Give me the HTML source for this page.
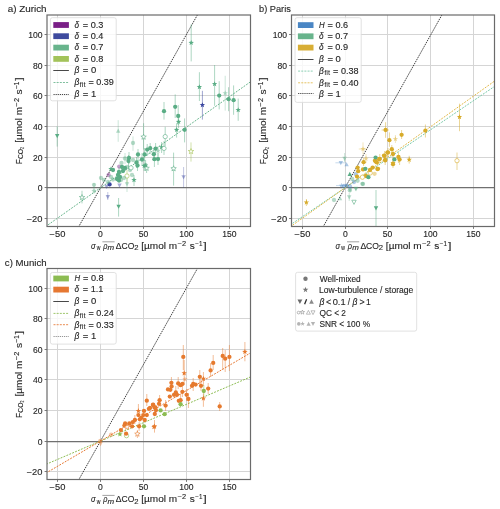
<!DOCTYPE html><html><head><meta charset="utf-8"><style>html,body{margin:0;padding:0;background:#fff;width:500px;height:509px;overflow:hidden} text{stroke:#262626;stroke-width:0.12px} text.s{stroke-width:0}</style></head><body><svg width="500" height="509" viewBox="0 0 500 509" style="display:block;font-family:'Liberation Sans', sans-serif;will-change:transform">
<rect width="500" height="509" fill="#fff"/>
<line x1="57.50" y1="15.0" x2="57.50" y2="226.5" stroke="#d5d5d5" stroke-width="1"/>
<line x1="100.50" y1="15.0" x2="100.50" y2="226.5" stroke="#d5d5d5" stroke-width="1"/>
<line x1="143.50" y1="15.0" x2="143.50" y2="226.5" stroke="#d5d5d5" stroke-width="1"/>
<line x1="186.50" y1="15.0" x2="186.50" y2="226.5" stroke="#d5d5d5" stroke-width="1"/>
<line x1="229.50" y1="15.0" x2="229.50" y2="226.5" stroke="#d5d5d5" stroke-width="1"/>
<line x1="47.0" y1="218.50" x2="250.5" y2="218.50" stroke="#d5d5d5" stroke-width="1"/>
<line x1="47.0" y1="187.50" x2="250.5" y2="187.50" stroke="#d5d5d5" stroke-width="1"/>
<line x1="47.0" y1="157.50" x2="250.5" y2="157.50" stroke="#d5d5d5" stroke-width="1"/>
<line x1="47.0" y1="126.50" x2="250.5" y2="126.50" stroke="#d5d5d5" stroke-width="1"/>
<line x1="47.0" y1="95.50" x2="250.5" y2="95.50" stroke="#d5d5d5" stroke-width="1"/>
<line x1="47.0" y1="65.50" x2="250.5" y2="65.50" stroke="#d5d5d5" stroke-width="1"/>
<line x1="47.0" y1="34.50" x2="250.5" y2="34.50" stroke="#d5d5d5" stroke-width="1"/>
<line x1="302.50" y1="15.0" x2="302.50" y2="226.5" stroke="#d5d5d5" stroke-width="1"/>
<line x1="345.50" y1="15.0" x2="345.50" y2="226.5" stroke="#d5d5d5" stroke-width="1"/>
<line x1="387.50" y1="15.0" x2="387.50" y2="226.5" stroke="#d5d5d5" stroke-width="1"/>
<line x1="430.50" y1="15.0" x2="430.50" y2="226.5" stroke="#d5d5d5" stroke-width="1"/>
<line x1="473.50" y1="15.0" x2="473.50" y2="226.5" stroke="#d5d5d5" stroke-width="1"/>
<line x1="291.5" y1="218.50" x2="494.5" y2="218.50" stroke="#d5d5d5" stroke-width="1"/>
<line x1="291.5" y1="187.50" x2="494.5" y2="187.50" stroke="#d5d5d5" stroke-width="1"/>
<line x1="291.5" y1="157.50" x2="494.5" y2="157.50" stroke="#d5d5d5" stroke-width="1"/>
<line x1="291.5" y1="126.50" x2="494.5" y2="126.50" stroke="#d5d5d5" stroke-width="1"/>
<line x1="291.5" y1="95.50" x2="494.5" y2="95.50" stroke="#d5d5d5" stroke-width="1"/>
<line x1="291.5" y1="65.50" x2="494.5" y2="65.50" stroke="#d5d5d5" stroke-width="1"/>
<line x1="291.5" y1="34.50" x2="494.5" y2="34.50" stroke="#d5d5d5" stroke-width="1"/>
<line x1="57.50" y1="268.5" x2="57.50" y2="479.5" stroke="#d5d5d5" stroke-width="1"/>
<line x1="100.50" y1="268.5" x2="100.50" y2="479.5" stroke="#d5d5d5" stroke-width="1"/>
<line x1="143.50" y1="268.5" x2="143.50" y2="479.5" stroke="#d5d5d5" stroke-width="1"/>
<line x1="186.50" y1="268.5" x2="186.50" y2="479.5" stroke="#d5d5d5" stroke-width="1"/>
<line x1="229.50" y1="268.5" x2="229.50" y2="479.5" stroke="#d5d5d5" stroke-width="1"/>
<line x1="47.0" y1="471.50" x2="250.5" y2="471.50" stroke="#d5d5d5" stroke-width="1"/>
<line x1="47.0" y1="441.50" x2="250.5" y2="441.50" stroke="#d5d5d5" stroke-width="1"/>
<line x1="47.0" y1="410.50" x2="250.5" y2="410.50" stroke="#d5d5d5" stroke-width="1"/>
<line x1="47.0" y1="379.50" x2="250.5" y2="379.50" stroke="#d5d5d5" stroke-width="1"/>
<line x1="47.0" y1="349.50" x2="250.5" y2="349.50" stroke="#d5d5d5" stroke-width="1"/>
<line x1="47.0" y1="318.50" x2="250.5" y2="318.50" stroke="#d5d5d5" stroke-width="1"/>
<line x1="47.0" y1="288.50" x2="250.5" y2="288.50" stroke="#d5d5d5" stroke-width="1"/>
<clipPath id="clipa"><rect x="47.0" y="15.0" width="203.50" height="211.50"/></clipPath>
<g clip-path="url(#clipa)">
<line x1="47.0" y1="187.50" x2="250.5" y2="187.50" stroke="#707070" stroke-width="1.25"/>
<line x1="74.72" y1="233.79" x2="203.62" y2="3.84" stroke="#2a2a2a" stroke-width="0.9" stroke-dasharray="1.5 0.9"/>
<line x1="40.35" y1="230.29" x2="255.17" y2="78.53" stroke="#68b48c" stroke-width="1.0" stroke-dasharray="1.9 1.25"/>
</g>
<clipPath id="clipb"><rect x="291.5" y="15.0" width="203.00" height="211.50"/></clipPath>
<g clip-path="url(#clipb)">
<line x1="291.5" y1="187.50" x2="494.5" y2="187.50" stroke="#707070" stroke-width="1.25"/>
<line x1="319.22" y1="233.79" x2="448.12" y2="3.84" stroke="#2a2a2a" stroke-width="0.9" stroke-dasharray="1.5 0.9"/>
<line x1="284.85" y1="228.58" x2="499.67" y2="82.94" stroke="#78c8a8" stroke-width="1.0" stroke-dasharray="1.9 1.25"/>
<line x1="284.85" y1="230.72" x2="499.67" y2="77.42" stroke="#e0b848" stroke-width="1.0" stroke-dasharray="1.9 1.25"/>
</g>
<clipPath id="clipc"><rect x="47.0" y="268.5" width="203.50" height="211.00"/></clipPath>
<g clip-path="url(#clipc)">
<line x1="47.0" y1="441.50" x2="250.5" y2="441.50" stroke="#707070" stroke-width="1.25"/>
<line x1="74.72" y1="486.95" x2="203.62" y2="257.45" stroke="#2a2a2a" stroke-width="0.9" stroke-dasharray="1.5 0.9"/>
<line x1="40.35" y1="466.75" x2="255.17" y2="374.95" stroke="#8cbc52" stroke-width="1.0" stroke-dasharray="1.9 1.25"/>
<line x1="40.35" y1="476.39" x2="255.17" y2="350.17" stroke="#e67832" stroke-width="1.0" stroke-dasharray="1.9 1.25"/>
</g>
<g clip-path="url(#clipa)">
<line x1="57.2" y1="126.2" x2="57.2" y2="146.6" stroke="#5aad85" stroke-opacity="0.55" stroke-width="0.9"/>
<line x1="191.2" y1="24.3" x2="191.2" y2="61.4" stroke="#5aad85" stroke-opacity="0.55" stroke-width="0.9"/>
<line x1="199.4" y1="72.2" x2="199.4" y2="101" stroke="#5aad85" stroke-opacity="0.55" stroke-width="0.9"/>
<line x1="202.4" y1="90.8" x2="202.4" y2="119.6" stroke="#3b47a0" stroke-opacity="0.55" stroke-width="0.9"/>
<line x1="214.6" y1="65" x2="214.6" y2="105.8" stroke="#5aad85" stroke-opacity="0.55" stroke-width="0.9"/>
<line x1="219.2" y1="81.2" x2="219.2" y2="109.4" stroke="#5aad85" stroke-opacity="0.55" stroke-width="0.9"/>
<line x1="225.2" y1="75.8" x2="225.2" y2="110.6" stroke="#5aad85" stroke-opacity="0.35" stroke-width="0.9"/>
<line x1="228.6" y1="87.2" x2="228.6" y2="111.2" stroke="#5aad85" stroke-opacity="0.55" stroke-width="0.9"/>
<line x1="233.6" y1="85.4" x2="233.6" y2="114.8" stroke="#5aad85" stroke-opacity="0.55" stroke-width="0.9"/>
<line x1="238.2" y1="98.6" x2="238.2" y2="120.8" stroke="#5aad85" stroke-opacity="0.55" stroke-width="0.9"/>
<line x1="164" y1="102" x2="164" y2="119.6" stroke="#5aad85" stroke-opacity="0.55" stroke-width="0.9"/>
<line x1="175.2" y1="94.4" x2="175.2" y2="118" stroke="#5aad85" stroke-opacity="0.55" stroke-width="0.9"/>
<line x1="178.2" y1="105" x2="178.2" y2="125" stroke="#5aad85" stroke-opacity="0.55" stroke-width="0.9"/>
<line x1="178.6" y1="115" x2="178.6" y2="128" stroke="#5aad85" stroke-opacity="0.55" stroke-width="0.9"/>
<line x1="176.6" y1="123.2" x2="176.6" y2="137.6" stroke="#5aad85" stroke-opacity="0.55" stroke-width="0.9"/>
<line x1="184.6" y1="118.4" x2="184.6" y2="142.4" stroke="#5aad85" stroke-opacity="0.55" stroke-width="0.9"/>
<line x1="165.2" y1="126.8" x2="165.2" y2="146" stroke="#5aad85" stroke-opacity="0.55" stroke-width="0.9"/>
<line x1="143.6" y1="123.2" x2="143.6" y2="149.6" stroke="#5aad85" stroke-opacity="0.55" stroke-width="0.9"/>
<line x1="161.6" y1="142" x2="161.6" y2="153" stroke="#5aad85" stroke-opacity="0.55" stroke-width="0.9"/>
<line x1="164" y1="141" x2="164" y2="155" stroke="#5aad85" stroke-opacity="0.55" stroke-width="0.9"/>
<line x1="147.2" y1="144" x2="147.2" y2="156" stroke="#5aad85" stroke-opacity="0.55" stroke-width="0.9"/>
<line x1="150.2" y1="143" x2="150.2" y2="154" stroke="#5aad85" stroke-opacity="0.55" stroke-width="0.9"/>
<line x1="155.6" y1="143" x2="155.6" y2="155" stroke="#5aad85" stroke-opacity="0.55" stroke-width="0.9"/>
<line x1="153.8" y1="148" x2="153.8" y2="161" stroke="#5aad85" stroke-opacity="0.55" stroke-width="0.9"/>
<line x1="144.6" y1="148" x2="144.6" y2="161" stroke="#5aad85" stroke-opacity="0.55" stroke-width="0.9"/>
<line x1="154.4" y1="152" x2="154.4" y2="167" stroke="#5aad85" stroke-opacity="0.55" stroke-width="0.9"/>
<line x1="158" y1="153" x2="158" y2="165" stroke="#5aad85" stroke-opacity="0.55" stroke-width="0.9"/>
<line x1="158" y1="146" x2="158" y2="156" stroke="#5aad85" stroke-opacity="0.35" stroke-width="0.9"/>
<line x1="191" y1="142.4" x2="191" y2="161.6" stroke="#a2c151" stroke-opacity="0.55" stroke-width="0.9"/>
<line x1="144.2" y1="160" x2="144.2" y2="171" stroke="#5aad85" stroke-opacity="0.55" stroke-width="0.9"/>
<line x1="146.6" y1="163" x2="146.6" y2="173" stroke="#5aad85" stroke-opacity="0.55" stroke-width="0.9"/>
<line x1="173.6" y1="152.6" x2="173.6" y2="185.6" stroke="#5aad85" stroke-opacity="0.55" stroke-width="0.9"/>
<line x1="183.6" y1="167" x2="183.6" y2="187.6" stroke="#3b47a0" stroke-opacity="0.35" stroke-width="0.9"/>
<line x1="118.2" y1="120.2" x2="118.2" y2="141.8" stroke="#5aad85" stroke-opacity="0.35" stroke-width="0.9"/>
<line x1="133" y1="136.4" x2="133" y2="150.8" stroke="#5aad85" stroke-opacity="0.35" stroke-width="0.9"/>
<line x1="145.6" y1="160" x2="145.6" y2="171" stroke="#5aad85" stroke-opacity="0.55" stroke-width="0.9"/>
<line x1="127" y1="170" x2="127" y2="183" stroke="#a2c151" stroke-opacity="0.55" stroke-width="0.9"/>
<line x1="82" y1="190.8" x2="82" y2="203.4" stroke="#5aad85" stroke-opacity="0.55" stroke-width="0.9"/>
<line x1="94" y1="183" x2="94" y2="193.8" stroke="#5aad85" stroke-opacity="0.35" stroke-width="0.9"/>
<line x1="107.8" y1="192" x2="107.8" y2="200" stroke="#3b47a0" stroke-opacity="0.35" stroke-width="0.9"/>
<line x1="118.6" y1="198" x2="118.6" y2="216.6" stroke="#5aad85" stroke-opacity="0.55" stroke-width="0.9"/>
<line x1="129" y1="152" x2="129" y2="164" stroke="#5aad85" stroke-opacity="0.55" stroke-width="0.9"/>
<line x1="128.5" y1="155" x2="128.5" y2="167" stroke="#5aad85" stroke-opacity="0.55" stroke-width="0.9"/>
<line x1="138" y1="149" x2="138" y2="160" stroke="#5aad85" stroke-opacity="0.55" stroke-width="0.9"/>
<line x1="142" y1="153" x2="142" y2="166" stroke="#5aad85" stroke-opacity="0.55" stroke-width="0.9"/>
<line x1="136.5" y1="157" x2="136.5" y2="168" stroke="#5aad85" stroke-opacity="0.55" stroke-width="0.9"/>
<line x1="137.5" y1="160" x2="137.5" y2="171" stroke="#5aad85" stroke-opacity="0.55" stroke-width="0.9"/>
<line x1="125" y1="153" x2="125" y2="164" stroke="#5aad85" stroke-opacity="0.35" stroke-width="0.9"/>
<line x1="119" y1="167" x2="119" y2="177" stroke="#5aad85" stroke-opacity="0.55" stroke-width="0.9"/>
<line x1="134" y1="175" x2="134" y2="186" stroke="#5aad85" stroke-opacity="0.55" stroke-width="0.9"/>
<line x1="127" y1="176" x2="127" y2="192" stroke="#5aad85" stroke-opacity="0.35" stroke-width="0.9"/>
<polygon points="55.00,134.04 59.40,134.04 57.20,138.22" fill="#5aad85"/>
<polygon points="191.20,39.95 191.91,41.83 193.91,41.92 192.34,43.17 192.88,45.11 191.20,44.00 189.52,45.11 190.06,43.17 188.49,41.92 190.49,41.83" fill="#5aad85"/>
<polygon points="199.40,84.15 200.11,86.03 202.11,86.12 200.54,87.37 201.08,89.31 199.40,88.20 197.72,89.31 198.26,87.37 196.69,86.12 198.69,86.03" fill="#5aad85"/>
<polygon points="202.40,102.15 203.11,104.03 205.11,104.12 203.54,105.37 204.08,107.31 202.40,106.20 200.72,107.31 201.26,105.37 199.69,104.12 201.69,104.03" fill="#3b47a0"/>
<polygon points="214.60,81.15 215.31,83.03 217.31,83.12 215.74,84.37 216.28,86.31 214.60,85.20 212.92,86.31 213.46,84.37 211.89,83.12 213.89,83.03" fill="#5aad85"/>
<circle cx="219.2" cy="95.6" r="2.15" fill="#5aad85"/>
<polygon points="225.20,90.35 225.91,92.23 227.91,92.32 226.34,93.57 226.88,95.51 225.20,94.40 223.52,95.51 224.06,93.57 222.49,92.32 224.49,92.23" fill="#5aad85" fill-opacity="0.45"/>
<circle cx="228.6" cy="99.2" r="2.15" fill="#5aad85"/>
<circle cx="233.6" cy="100.2" r="2.15" fill="#5aad85"/>
<polygon points="238.20,107.15 238.91,109.03 240.91,109.12 239.34,110.37 239.88,112.31 238.20,111.20 236.52,112.31 237.06,110.37 235.49,109.12 237.49,109.03" fill="#5aad85"/>
<circle cx="164" cy="111.2" r="2.15" fill="#5aad85"/>
<circle cx="175.2" cy="106.8" r="2.15" fill="#5aad85"/>
<circle cx="178.2" cy="116" r="2.15" fill="#5aad85"/>
<polygon points="178.60,118.95 179.31,120.83 181.31,120.92 179.74,122.17 180.28,124.11 178.60,123.00 176.92,124.11 177.46,122.17 175.89,120.92 177.89,120.83" fill="#5aad85"/>
<polygon points="176.60,126.95 177.31,128.83 179.31,128.92 177.74,130.17 178.28,132.11 176.60,131.00 174.92,132.11 175.46,130.17 173.89,128.92 175.89,128.83" fill="#5aad85"/>
<circle cx="184.6" cy="129.8" r="2.15" fill="#5aad85"/>
<circle cx="165.2" cy="136.6" r="2.15" fill="#fff" stroke="#5aad85" stroke-width="0.6"/>
<polygon points="143.60,134.15 144.31,136.03 146.31,136.12 144.74,137.37 145.28,139.31 143.60,138.20 141.92,139.31 142.46,137.37 140.89,136.12 142.89,136.03" fill="#fff" stroke="#5aad85" stroke-width="0.6"/>
<polygon points="161.60,144.35 162.31,146.23 164.31,146.32 162.74,147.57 163.28,149.51 161.60,148.40 159.92,149.51 160.46,147.57 158.89,146.32 160.89,146.23" fill="#5aad85"/>
<circle cx="164" cy="148.4" r="2.15" fill="#fff" stroke="#5aad85" stroke-width="0.6"/>
<circle cx="147.2" cy="149.6" r="2.15" fill="#5aad85"/>
<circle cx="150.2" cy="148.2" r="2.15" fill="#5aad85"/>
<circle cx="155.6" cy="148.6" r="2.15" fill="#5aad85"/>
<circle cx="153.8" cy="154.2" r="2.15" fill="#5aad85"/>
<circle cx="144.6" cy="154.4" r="2.15" fill="#5aad85"/>
<circle cx="154.4" cy="159.2" r="2.15" fill="#5aad85"/>
<circle cx="158" cy="159" r="2.15" fill="#5aad85"/>
<polygon points="158.00,147.95 158.71,149.83 160.71,149.92 159.14,151.17 159.68,153.11 158.00,152.00 156.32,153.11 156.86,151.17 155.29,149.92 157.29,149.83" fill="#5aad85" fill-opacity="0.45"/>
<polygon points="191.00,148.55 191.71,150.43 193.71,150.52 192.14,151.77 192.68,153.71 191.00,152.60 189.32,153.71 189.86,151.77 188.29,150.52 190.29,150.43" fill="#fff" stroke="#a2c151" stroke-width="0.6"/>
<polygon points="144.20,162.95 144.91,164.83 146.91,164.92 145.34,166.17 145.88,168.11 144.20,167.00 142.52,168.11 143.06,166.17 141.49,164.92 143.49,164.83" fill="#5aad85"/>
<polygon points="146.60,165.35 147.31,167.23 149.31,167.32 147.74,168.57 148.28,170.51 146.60,169.40 144.92,170.51 145.46,168.57 143.89,167.32 145.89,167.23" fill="#fff" stroke="#5aad85" stroke-width="0.6"/>
<polygon points="173.60,165.75 174.31,167.63 176.31,167.72 174.74,168.97 175.28,170.91 173.60,169.80 171.92,170.91 172.46,168.97 170.89,167.72 172.89,167.63" fill="#fff" stroke="#5aad85" stroke-width="0.6"/>
<polygon points="181.40,175.14 185.80,175.14 183.60,179.32" fill="#3b47a0" fill-opacity="0.45"/>
<polygon points="116.00,132.76 120.40,132.76 118.20,128.58" fill="#5aad85" fill-opacity="0.45"/>
<circle cx="133" cy="143" r="2.15" fill="#5aad85" fill-opacity="0.45"/>
<polygon points="145.60,162.55 146.31,164.43 148.31,164.52 146.74,165.77 147.28,167.71 145.60,166.60 143.92,167.71 144.46,165.77 142.89,164.52 144.89,164.43" fill="#5aad85"/>
<circle cx="119.2" cy="166.6" r="2.15" fill="#7b2a8a" fill-opacity="0.45"/>
<circle cx="127" cy="176" r="2.15" fill="#fff" stroke="#a2c151" stroke-width="0.6"/>
<circle cx="108.6" cy="175" r="2.15" fill="#7b2a8a" fill-opacity="0.45"/>
<circle cx="109.6" cy="184.4" r="2.15" fill="#3b47a0"/>
<polygon points="104.40,184.74 108.80,184.74 106.60,188.92" fill="#3b47a0" fill-opacity="0.45"/>
<polygon points="117.30,183.54 121.70,183.54 119.50,187.72" fill="#3b47a0" fill-opacity="0.45"/>
<polygon points="82.00,194.55 82.71,196.43 84.71,196.52 83.14,197.77 83.68,199.71 82.00,198.60 80.32,199.71 80.86,197.77 79.29,196.52 81.29,196.43" fill="#fff" stroke="#5aad85" stroke-width="0.6"/>
<polygon points="94.00,187.95 94.71,189.83 96.71,189.92 95.14,191.17 95.68,193.11 94.00,192.00 92.32,193.11 92.86,191.17 91.29,189.92 93.29,189.83" fill="#5aad85" fill-opacity="0.45"/>
<circle cx="94" cy="184.8" r="2.15" fill="#5aad85" fill-opacity="0.45"/>
<polygon points="105.60,195.04 110.00,195.04 107.80,199.22" fill="#3b47a0" fill-opacity="0.45"/>
<polygon points="116.40,204.64 120.80,204.64 118.60,208.82" fill="#5aad85"/>
<circle cx="129" cy="158" r="2.15" fill="#5aad85"/>
<circle cx="128.5" cy="161" r="2.15" fill="#5aad85"/>
<circle cx="138" cy="154.5" r="2.15" fill="#5aad85"/>
<circle cx="142" cy="159.5" r="2.15" fill="#5aad85"/>
<circle cx="136.5" cy="162.5" r="2.15" fill="#5aad85"/>
<circle cx="137.5" cy="165.5" r="2.15" fill="#5aad85"/>
<circle cx="125" cy="158.5" r="2.15" fill="#5aad85" fill-opacity="0.45"/>
<circle cx="133" cy="160" r="2.15" fill="#5aad85" fill-opacity="0.45"/>
<circle cx="121.5" cy="163" r="2.15" fill="#5aad85" fill-opacity="0.45"/>
<polygon points="111.00,166.15 111.71,168.03 113.71,168.12 112.14,169.37 112.68,171.31 111.00,170.20 109.32,171.31 109.86,169.37 108.29,168.12 110.29,168.03" fill="#5aad85"/>
<circle cx="113" cy="170" r="2.15" fill="#5aad85"/>
<circle cx="119" cy="172" r="2.15" fill="#5aad85"/>
<circle cx="118" cy="175" r="2.15" fill="#5aad85"/>
<circle cx="120" cy="177" r="2.15" fill="#5aad85"/>
<circle cx="117" cy="179" r="2.15" fill="#5aad85"/>
<circle cx="119" cy="180.5" r="2.15" fill="#5aad85"/>
<circle cx="123" cy="171" r="2.15" fill="#5aad85"/>
<circle cx="125" cy="168" r="2.15" fill="#5aad85"/>
<circle cx="127" cy="167" r="2.15" fill="#5aad85" fill-opacity="0.45"/>
<circle cx="122" cy="167" r="2.15" fill="#5aad85"/>
<circle cx="121" cy="180" r="2.15" fill="#5aad85" fill-opacity="0.45"/>
<circle cx="124" cy="178" r="2.15" fill="#5aad85" fill-opacity="0.45"/>
<circle cx="130" cy="170" r="2.15" fill="#5aad85" fill-opacity="0.45"/>
<circle cx="132" cy="175" r="2.15" fill="#5aad85" fill-opacity="0.45"/>
<circle cx="111" cy="177" r="2.15" fill="#5aad85" fill-opacity="0.45"/>
<circle cx="104" cy="180" r="2.15" fill="#5aad85" fill-opacity="0.45"/>
<circle cx="101" cy="178" r="2.15" fill="#5aad85" fill-opacity="0.45"/>
<circle cx="108" cy="182" r="2.15" fill="#5aad85" fill-opacity="0.45"/>
<circle cx="113" cy="179.5" r="2.15" fill="#5aad85" fill-opacity="0.45"/>
<polygon points="134.00,177.15 134.71,179.03 136.71,179.12 135.14,180.37 135.68,182.31 134.00,181.20 132.32,182.31 132.86,180.37 131.29,179.12 133.29,179.03" fill="#5aad85"/>
<polygon points="124.80,182.24 129.20,182.24 127.00,186.42" fill="#5aad85" fill-opacity="0.45"/>
<circle cx="131" cy="167.8" r="2.15" fill="#fff" stroke="#5aad85" stroke-width="0.6"/>
</g>
<g clip-path="url(#clipb)">
<line x1="459.5" y1="103.7" x2="459.5" y2="131.2" stroke="#d7ab2a" stroke-opacity="0.55" stroke-width="0.9"/>
<line x1="425.4" y1="124.5" x2="425.4" y2="137.5" stroke="#d7ab2a" stroke-opacity="0.55" stroke-width="0.9"/>
<line x1="385.6" y1="122.2" x2="385.6" y2="137.8" stroke="#d7ab2a" stroke-opacity="0.55" stroke-width="0.9"/>
<line x1="381.6" y1="130" x2="388.8" y2="130" stroke="#d7ab2a" stroke-opacity="0.55" stroke-width="0.9"/>
<line x1="401.6" y1="130" x2="401.6" y2="139" stroke="#d7ab2a" stroke-opacity="0.55" stroke-width="0.9"/>
<line x1="395.4" y1="135" x2="395.4" y2="143" stroke="#d7ab2a" stroke-opacity="0.35" stroke-width="0.9"/>
<line x1="389.4" y1="132.4" x2="389.4" y2="146.8" stroke="#d7ab2a" stroke-opacity="0.55" stroke-width="0.9"/>
<line x1="391.8" y1="145" x2="391.8" y2="153" stroke="#d7ab2a" stroke-opacity="0.55" stroke-width="0.9"/>
<line x1="388" y1="148" x2="388" y2="157" stroke="#d7ab2a" stroke-opacity="0.55" stroke-width="0.9"/>
<line x1="393" y1="150" x2="393" y2="158" stroke="#d7ab2a" stroke-opacity="0.55" stroke-width="0.9"/>
<line x1="384.6" y1="151" x2="384.6" y2="160" stroke="#d7ab2a" stroke-opacity="0.55" stroke-width="0.9"/>
<line x1="379.8" y1="154" x2="379.8" y2="163" stroke="#d7ab2a" stroke-opacity="0.55" stroke-width="0.9"/>
<line x1="385.2" y1="156" x2="385.2" y2="165" stroke="#d7ab2a" stroke-opacity="0.55" stroke-width="0.9"/>
<line x1="398.4" y1="152" x2="398.4" y2="163" stroke="#d7ab2a" stroke-opacity="0.55" stroke-width="0.9"/>
<line x1="399.6" y1="155" x2="399.6" y2="165" stroke="#d7ab2a" stroke-opacity="0.55" stroke-width="0.9"/>
<line x1="393" y1="158" x2="393" y2="168" stroke="#d7ab2a" stroke-opacity="0.55" stroke-width="0.9"/>
<line x1="409.2" y1="155.8" x2="409.2" y2="163.6" stroke="#d7ab2a" stroke-opacity="0.55" stroke-width="0.9"/>
<line x1="457" y1="152.5" x2="457" y2="170" stroke="#d7ab2a" stroke-opacity="0.55" stroke-width="0.9"/>
<line x1="363" y1="142.4" x2="363" y2="154.4" stroke="#d7ab2a" stroke-opacity="0.35" stroke-width="0.9"/>
<line x1="358.8" y1="149" x2="367.2" y2="149" stroke="#d7ab2a" stroke-opacity="0.35" stroke-width="0.9"/>
<line x1="344.6" y1="153" x2="344.6" y2="162" stroke="#5aad85" stroke-opacity="0.35" stroke-width="0.9"/>
<line x1="335.4" y1="162.8" x2="346.2" y2="162.8" stroke="#4a86c4" stroke-opacity="0.35" stroke-width="0.9"/>
<line x1="363.6" y1="158" x2="363.6" y2="166" stroke="#d7ab2a" stroke-opacity="0.55" stroke-width="0.9"/>
<line x1="366" y1="154" x2="366" y2="163" stroke="#d7ab2a" stroke-opacity="0.35" stroke-width="0.9"/>
<line x1="336" y1="185.6" x2="347" y2="185.6" stroke="#4a86c4" stroke-opacity="0.35" stroke-width="0.9"/>
<line x1="349.2" y1="193" x2="349.2" y2="201" stroke="#5aad85" stroke-opacity="0.35" stroke-width="0.9"/>
<line x1="306.4" y1="199" x2="306.4" y2="206" stroke="#d7ab2a" stroke-opacity="0.55" stroke-width="0.9"/>
<line x1="376" y1="190" x2="376" y2="226" stroke="#5aad85" stroke-opacity="0.55" stroke-width="0.9"/>
<polygon points="459.50,114.15 460.21,116.03 462.21,116.12 460.64,117.37 461.18,119.31 459.50,118.20 457.82,119.31 458.36,117.37 456.79,116.12 458.79,116.03" fill="#d7ab2a"/>
<circle cx="425.4" cy="130.6" r="2.15" fill="#d7ab2a"/>
<circle cx="385.6" cy="130" r="2.15" fill="#d7ab2a"/>
<circle cx="401.6" cy="134.8" r="2.15" fill="#d7ab2a"/>
<polygon points="395.40,136.15 396.11,138.03 398.11,138.12 396.54,139.37 397.08,141.31 395.40,140.20 393.72,141.31 394.26,139.37 392.69,138.12 394.69,138.03" fill="#d7ab2a" fill-opacity="0.45"/>
<circle cx="389.4" cy="140.2" r="2.15" fill="#d7ab2a"/>
<circle cx="391.8" cy="149.2" r="2.15" fill="#d7ab2a"/>
<circle cx="388" cy="152.4" r="2.15" fill="#d7ab2a"/>
<circle cx="393" cy="154" r="2.15" fill="#d7ab2a"/>
<circle cx="384.6" cy="155.8" r="2.15" fill="#d7ab2a"/>
<circle cx="379.8" cy="158.8" r="2.15" fill="#d7ab2a"/>
<circle cx="385.2" cy="160.4" r="2.15" fill="#d7ab2a"/>
<circle cx="398.4" cy="157" r="2.15" fill="#d7ab2a"/>
<circle cx="399.6" cy="159.6" r="2.15" fill="#d7ab2a"/>
<polygon points="393.00,160.15 393.71,162.03 395.71,162.12 394.14,163.37 394.68,165.31 393.00,164.20 391.32,165.31 391.86,163.37 390.29,162.12 392.29,162.03" fill="#d7ab2a"/>
<circle cx="393" cy="164.2" r="2.15" fill="#d7ab2a"/>
<circle cx="377.4" cy="169" r="2.15" fill="#d7ab2a"/>
<circle cx="376.8" cy="162.4" r="2.15" fill="#d7ab2a"/>
<circle cx="375" cy="160.6" r="2.15" fill="#d7ab2a"/>
<circle cx="394.4" cy="159.4" r="2.15" fill="#5aad85"/>
<circle cx="375.6" cy="157.6" r="2.15" fill="#5aad85"/>
<polygon points="409.20,156.75 409.91,158.63 411.91,158.72 410.34,159.97 410.88,161.91 409.20,160.80 407.52,161.91 408.06,159.97 406.49,158.72 408.49,158.63" fill="#d7ab2a"/>
<circle cx="457" cy="160.7" r="2.15" fill="#fff" stroke="#d7ab2a" stroke-width="0.6"/>
<polygon points="363.00,146.15 363.71,148.03 365.71,148.12 364.14,149.37 364.68,151.31 363.00,150.20 361.32,151.31 361.86,149.37 360.29,148.12 362.29,148.03" fill="#d7ab2a" fill-opacity="0.45"/>
<polygon points="342.40,156.84 346.80,156.84 344.60,161.02" fill="#5aad85" fill-opacity="0.45"/>
<polygon points="338.60,161.04 343.00,161.04 340.80,165.22" fill="#4a86c4" fill-opacity="0.45"/>
<polygon points="344.40,166.36 348.80,166.36 346.60,162.18" fill="#4a86c4" fill-opacity="0.45"/>
<polygon points="347.60,175.96 352.00,175.96 349.80,171.78" fill="#5aad85"/>
<circle cx="355.8" cy="174.2" r="2.15" fill="#4a86c4" fill-opacity="0.45"/>
<circle cx="363.6" cy="162.2" r="2.15" fill="#d7ab2a"/>
<polygon points="366.00,155.75 366.71,157.63 368.71,157.72 367.14,158.97 367.68,160.91 366.00,159.80 364.32,160.91 364.86,158.97 363.29,157.72 365.29,157.63" fill="#d7ab2a" fill-opacity="0.45"/>
<circle cx="357.6" cy="167.6" r="2.15" fill="#d7ab2a"/>
<circle cx="358.2" cy="171.2" r="2.15" fill="#d7ab2a"/>
<circle cx="363" cy="169.4" r="2.15" fill="#d7ab2a"/>
<circle cx="366" cy="176" r="2.15" fill="#d7ab2a"/>
<circle cx="372.6" cy="167.6" r="2.15" fill="#d7ab2a"/>
<circle cx="378" cy="168.8" r="2.15" fill="#d7ab2a"/>
<circle cx="375.6" cy="161.6" r="2.15" fill="#d7ab2a"/>
<circle cx="379.2" cy="159.2" r="2.15" fill="#d7ab2a"/>
<circle cx="384" cy="155.6" r="2.15" fill="#d7ab2a"/>
<circle cx="385.2" cy="159.8" r="2.15" fill="#d7ab2a"/>
<circle cx="387.4" cy="152.6" r="2.15" fill="#d7ab2a"/>
<circle cx="357" cy="176.6" r="2.15" fill="#d7ab2a"/>
<circle cx="368.4" cy="177.2" r="2.15" fill="#5aad85"/>
<circle cx="365.4" cy="168.8" r="2.15" fill="#5aad85"/>
<circle cx="362.4" cy="177.2" r="2.15" fill="#fff" stroke="#d7ab2a" stroke-width="0.6"/>
<circle cx="370.2" cy="173" r="2.15" fill="#fff" stroke="#d7ab2a" stroke-width="0.6"/>
<circle cx="374.6" cy="173.8" r="2.15" fill="#d7ab2a" fill-opacity="0.45"/>
<circle cx="362.4" cy="183.8" r="2.15" fill="#5aad85" fill-opacity="0.45"/>
<circle cx="354" cy="182" r="2.15" fill="#4a86c4" fill-opacity="0.45"/>
<polygon points="341.40,182.75 342.11,184.63 344.11,184.72 342.54,185.97 343.08,187.91 341.40,186.80 339.72,187.91 340.26,185.97 338.69,184.72 340.69,184.63" fill="#4a86c4" fill-opacity="0.45"/>
<circle cx="346.8" cy="185.6" r="2.15" fill="#4a86c4" fill-opacity="0.45"/>
<circle cx="357.6" cy="180.8" r="2.15" fill="#5aad85" fill-opacity="0.45"/>
<circle cx="352.2" cy="179" r="2.15" fill="#5aad85" fill-opacity="0.45"/>
<polygon points="347.00,195.24 351.40,195.24 349.20,199.42" fill="#5aad85" fill-opacity="0.45"/>
<polygon points="353.60,186.84 358.00,186.84 355.80,191.02" fill="#5aad85" fill-opacity="0.45"/>
<circle cx="349.8" cy="190.4" r="2.15" fill="#5aad85" fill-opacity="0.45"/>
<polygon points="306.40,199.55 307.11,201.43 309.11,201.52 307.54,202.77 308.08,204.71 306.40,203.60 304.72,204.71 305.26,202.77 303.69,201.52 305.69,201.43" fill="#d7ab2a"/>
<circle cx="334" cy="200" r="2.15" fill="#5aad85" fill-opacity="0.45"/>
<polygon points="337.80,200.16 342.20,200.16 340.00,195.98" fill="#5aad85" fill-opacity="0.45"/>
<polygon points="351.80,200.24 356.20,200.24 354.00,204.42" fill="#fff" stroke="#5aad85" stroke-width="0.6"/>
<polygon points="373.80,206.24 378.20,206.24 376.00,210.42" fill="#5aad85"/>
<circle cx="363" cy="184" r="2.15" fill="#5aad85" fill-opacity="0.45"/>
<polygon points="347.80,188.24 352.20,188.24 350.00,192.42" fill="#5aad85" fill-opacity="0.45"/>
<polygon points="353.80,187.24 358.20,187.24 356.00,191.42" fill="#5aad85" fill-opacity="0.45"/>
<circle cx="344" cy="186" r="2.15" fill="#4a86c4" fill-opacity="0.45"/>
<circle cx="350" cy="186.5" r="2.15" fill="#4a86c4" fill-opacity="0.45"/>
<circle cx="370" cy="170" r="2.15" fill="#d7ab2a"/>
</g>
<g clip-path="url(#clipc)">
<line x1="244.9" y1="342" x2="244.9" y2="361.3" stroke="#e67a2e" stroke-opacity="0.55" stroke-width="0.9"/>
<line x1="222.7" y1="348" x2="222.7" y2="370" stroke="#e67a2e" stroke-opacity="0.55" stroke-width="0.9"/>
<line x1="225.2" y1="350" x2="225.2" y2="372" stroke="#e67a2e" stroke-opacity="0.55" stroke-width="0.9"/>
<line x1="229.4" y1="345" x2="229.4" y2="371" stroke="#e67a2e" stroke-opacity="0.55" stroke-width="0.9"/>
<line x1="213.2" y1="355" x2="213.2" y2="370" stroke="#e67a2e" stroke-opacity="0.55" stroke-width="0.9"/>
<line x1="210.6" y1="363" x2="210.6" y2="377" stroke="#e67a2e" stroke-opacity="0.55" stroke-width="0.9"/>
<line x1="183.3" y1="345" x2="183.3" y2="370" stroke="#e67a2e" stroke-opacity="0.55" stroke-width="0.9"/>
<line x1="219.7" y1="402" x2="219.7" y2="411" stroke="#e67a2e" stroke-opacity="0.55" stroke-width="0.9"/>
<line x1="184.2" y1="360" x2="184.2" y2="385" stroke="#e67a2e" stroke-opacity="0.55" stroke-width="0.9"/>
<line x1="199.8" y1="370" x2="199.8" y2="384" stroke="#e67a2e" stroke-opacity="0.55" stroke-width="0.9"/>
<line x1="203.4" y1="372" x2="203.4" y2="386" stroke="#e67a2e" stroke-opacity="0.55" stroke-width="0.9"/>
<line x1="171.4" y1="377" x2="171.4" y2="389" stroke="#e67a2e" stroke-opacity="0.55" stroke-width="0.9"/>
<line x1="178.2" y1="377" x2="178.2" y2="389" stroke="#e67a2e" stroke-opacity="0.55" stroke-width="0.9"/>
<line x1="193.2" y1="378" x2="193.2" y2="391" stroke="#e67a2e" stroke-opacity="0.55" stroke-width="0.9"/>
<line x1="201" y1="380" x2="201" y2="391" stroke="#e67a2e" stroke-opacity="0.55" stroke-width="0.9"/>
<line x1="208.2" y1="383" x2="208.2" y2="394" stroke="#e67a2e" stroke-opacity="0.55" stroke-width="0.9"/>
<line x1="182.4" y1="386" x2="182.4" y2="397" stroke="#e67a2e" stroke-opacity="0.55" stroke-width="0.9"/>
<line x1="175.8" y1="386" x2="175.8" y2="398" stroke="#e67a2e" stroke-opacity="0.55" stroke-width="0.9"/>
<line x1="186.6" y1="389" x2="186.6" y2="401" stroke="#e67a2e" stroke-opacity="0.55" stroke-width="0.9"/>
<line x1="188.4" y1="393" x2="188.4" y2="408" stroke="#e67a2e" stroke-opacity="0.55" stroke-width="0.9"/>
<line x1="180.6" y1="394" x2="180.6" y2="405" stroke="#e67a2e" stroke-opacity="0.55" stroke-width="0.9"/>
<line x1="165.6" y1="400" x2="165.6" y2="411" stroke="#e67a2e" stroke-opacity="0.55" stroke-width="0.9"/>
<line x1="159.6" y1="395" x2="159.6" y2="406" stroke="#e67a2e" stroke-opacity="0.55" stroke-width="0.9"/>
<line x1="203.8" y1="385" x2="203.8" y2="397" stroke="#8cbc52" stroke-opacity="0.55" stroke-width="0.9"/>
<line x1="203.4" y1="393.6" x2="203.4" y2="406.8" stroke="#e67a2e" stroke-opacity="0.55" stroke-width="0.9"/>
<line x1="146.8" y1="394" x2="146.8" y2="406" stroke="#e67a2e" stroke-opacity="0.55" stroke-width="0.9"/>
<line x1="138.4" y1="404" x2="138.4" y2="414" stroke="#e67a2e" stroke-opacity="0.55" stroke-width="0.9"/>
<line x1="154.5" y1="420" x2="154.5" y2="432.6" stroke="#e67a2e" stroke-opacity="0.55" stroke-width="0.9"/>
<line x1="134.9" y1="415" x2="134.9" y2="424" stroke="#e67a2e" stroke-opacity="0.55" stroke-width="0.9"/>
<line x1="139.1" y1="422" x2="139.1" y2="431" stroke="#e67a2e" stroke-opacity="0.55" stroke-width="0.9"/>
<line x1="137.4" y1="430" x2="137.4" y2="438" stroke="#e67a2e" stroke-opacity="0.55" stroke-width="0.9"/>
<polygon points="244.90,348.95 245.61,350.83 247.61,350.92 246.04,352.17 246.58,354.11 244.90,353.00 243.22,354.11 243.76,352.17 242.19,350.92 244.19,350.83" fill="#e67a2e"/>
<circle cx="222.7" cy="355.9" r="2.15" fill="#e67a2e"/>
<circle cx="225.2" cy="358.7" r="2.15" fill="#e67a2e"/>
<circle cx="229.4" cy="356.9" r="2.15" fill="#e67a2e"/>
<circle cx="213.2" cy="362.9" r="2.15" fill="#e67a2e"/>
<circle cx="210.6" cy="370.4" r="2.15" fill="#e67a2e"/>
<circle cx="183.3" cy="356.9" r="2.15" fill="#e67a2e"/>
<circle cx="219.7" cy="406.4" r="2.15" fill="#e67a2e"/>
<polygon points="184.20,370.35 184.91,372.23 186.91,372.32 185.34,373.57 185.88,375.51 184.20,374.40 182.52,375.51 183.06,373.57 181.49,372.32 183.49,372.23" fill="#e67a2e"/>
<polygon points="185.00,376.35 185.71,378.23 187.71,378.32 186.14,379.57 186.68,381.51 185.00,380.40 183.32,381.51 183.86,379.57 182.29,378.32 184.29,378.23" fill="#e67a2e" fill-opacity="0.45"/>
<circle cx="199.8" cy="376.8" r="2.15" fill="#e67a2e"/>
<polygon points="203.40,375.75 204.11,377.63 206.11,377.72 204.54,378.97 205.08,380.91 203.40,379.80 201.72,380.91 202.26,378.97 200.69,377.72 202.69,377.63" fill="#e67a2e"/>
<circle cx="171.4" cy="382.8" r="2.15" fill="#e67a2e"/>
<circle cx="171.6" cy="386.4" r="2.15" fill="#e67a2e"/>
<circle cx="178.2" cy="383.4" r="2.15" fill="#e67a2e"/>
<circle cx="180.6" cy="385.2" r="2.15" fill="#e67a2e"/>
<circle cx="182.4" cy="384" r="2.15" fill="#e67a2e"/>
<circle cx="193.2" cy="384" r="2.15" fill="#e67a2e"/>
<circle cx="195.6" cy="384.6" r="2.15" fill="#e67a2e"/>
<circle cx="192" cy="385.8" r="2.15" fill="#e67a2e"/>
<circle cx="201" cy="385.8" r="2.15" fill="#e67a2e"/>
<circle cx="208.2" cy="388.6" r="2.15" fill="#e67a2e"/>
<circle cx="168" cy="389.4" r="2.15" fill="#e67a2e"/>
<circle cx="170.4" cy="389.8" r="2.15" fill="#e67a2e"/>
<circle cx="182.4" cy="391.8" r="2.15" fill="#e67a2e"/>
<circle cx="175.8" cy="392.4" r="2.15" fill="#e67a2e"/>
<circle cx="174" cy="394.8" r="2.15" fill="#e67a2e"/>
<circle cx="177" cy="394.8" r="2.15" fill="#e67a2e"/>
<circle cx="169.8" cy="396.6" r="2.15" fill="#e67a2e"/>
<circle cx="186.6" cy="394.8" r="2.15" fill="#e67a2e"/>
<circle cx="188.4" cy="399" r="2.15" fill="#e67a2e"/>
<circle cx="178.8" cy="400.8" r="2.15" fill="#e67a2e"/>
<circle cx="180.6" cy="400.2" r="2.15" fill="#e67a2e"/>
<circle cx="165.6" cy="405.6" r="2.15" fill="#e67a2e"/>
<circle cx="159.6" cy="400.2" r="2.15" fill="#e67a2e"/>
<circle cx="159" cy="403.8" r="2.15" fill="#e67a2e"/>
<circle cx="153" cy="405" r="2.15" fill="#e67a2e"/>
<circle cx="155.4" cy="407.4" r="2.15" fill="#e67a2e"/>
<circle cx="154.8" cy="414" r="2.15" fill="#e67a2e"/>
<circle cx="150" cy="408" r="2.15" fill="#e67a2e"/>
<circle cx="203.8" cy="391" r="2.15" fill="#8cbc52"/>
<circle cx="180.6" cy="404.2" r="2.15" fill="#8cbc52"/>
<circle cx="160.6" cy="410.4" r="2.15" fill="#8cbc52"/>
<circle cx="164.6" cy="414.2" r="2.15" fill="#8cbc52"/>
<polygon points="203.40,395.55 204.11,397.43 206.11,397.52 204.54,398.77 205.08,400.71 203.40,399.60 201.72,400.71 202.26,398.77 200.69,397.52 202.69,397.43" fill="#e67a2e"/>
<polygon points="154.00,424.15 154.71,426.03 156.71,426.12 155.14,427.37 155.68,429.31 154.00,428.20 152.32,429.31 152.86,427.37 151.29,426.12 153.29,426.03" fill="#e67a2e"/>
<circle cx="146.8" cy="400.7" r="2.15" fill="#e67a2e"/>
<circle cx="153.1" cy="404.6" r="2.15" fill="#e67a2e"/>
<circle cx="154.5" cy="407.4" r="2.15" fill="#e67a2e"/>
<circle cx="155.9" cy="410.2" r="2.15" fill="#e67a2e"/>
<circle cx="148.9" cy="408.8" r="2.15" fill="#e67a2e"/>
<circle cx="144" cy="426.3" r="2.15" fill="#8cbc52"/>
<polygon points="119.90,431.45 120.61,433.33 122.61,433.42 121.04,434.67 121.58,436.61 119.90,435.50 118.22,436.61 118.76,434.67 117.19,433.42 119.19,433.33" fill="#8cbc52"/>
<circle cx="126.5" cy="435.7" r="2.15" fill="#fff" stroke="#8cbc52" stroke-width="0.6"/>
<polygon points="138.40,408.05 139.11,409.93 141.11,410.02 139.54,411.27 140.08,413.21 138.40,412.10 136.72,413.21 137.26,411.27 135.69,410.02 137.69,409.93" fill="#e67a2e"/>
<polygon points="154.50,423.45 155.21,425.33 157.21,425.42 155.64,426.67 156.18,428.61 154.50,427.50 152.82,428.61 153.36,426.67 151.79,425.42 153.79,425.33" fill="#e67a2e"/>
<circle cx="144" cy="410.9" r="2.15" fill="#e67a2e"/>
<circle cx="138.4" cy="415.1" r="2.15" fill="#e67a2e"/>
<circle cx="143.3" cy="415.1" r="2.15" fill="#e67a2e"/>
<circle cx="146.8" cy="415.1" r="2.15" fill="#e67a2e"/>
<circle cx="141.2" cy="417.9" r="2.15" fill="#e67a2e"/>
<circle cx="139.8" cy="419.3" r="2.15" fill="#e67a2e"/>
<circle cx="144.7" cy="420" r="2.15" fill="#e67a2e"/>
<circle cx="134.9" cy="420" r="2.15" fill="#e67a2e"/>
<circle cx="132.8" cy="422.1" r="2.15" fill="#e67a2e"/>
<circle cx="129.3" cy="423.5" r="2.15" fill="#e67a2e"/>
<circle cx="125.1" cy="423.5" r="2.15" fill="#e67a2e"/>
<circle cx="124.4" cy="425.6" r="2.15" fill="#e67a2e"/>
<circle cx="132.1" cy="426.3" r="2.15" fill="#e67a2e"/>
<circle cx="139.1" cy="426.3" r="2.15" fill="#e67a2e"/>
<circle cx="120.9" cy="430.1" r="2.15" fill="#e67a2e"/>
<circle cx="126.1" cy="433.7" r="2.15" fill="#e67a2e"/>
<polygon points="127.20,424.15 127.91,426.03 129.91,426.12 128.34,427.37 128.88,429.31 127.20,428.20 125.52,429.31 126.06,427.37 124.49,426.12 126.49,426.03" fill="#fff" stroke="#e67a2e" stroke-width="0.6"/>
<polygon points="137.40,431.15 138.11,433.03 140.11,433.12 138.54,434.37 139.08,436.31 137.40,435.20 135.72,436.31 136.26,434.37 134.69,433.12 136.69,433.03" fill="#fff" stroke="#e67a2e" stroke-width="0.6"/>
<circle cx="111.1" cy="434.7" r="2.15" fill="#e67a2e" fill-opacity="0.45"/>
<polygon points="98.40,442.04 102.80,442.04 100.60,446.22" fill="#e67a2e" fill-opacity="0.45"/>
<circle cx="100.3" cy="441" r="2.15" fill="#e67a2e" fill-opacity="0.45"/>
</g>
<rect x="47.0" y="15.0" width="203.50" height="211.50" fill="none" stroke="#6a6a6a" stroke-width="1.2"/>
<line x1="57.50" y1="226.5" x2="57.50" y2="228.9" stroke="#6a6a6a" stroke-width="0.9"/>
<text x="57.50" y="237.30" font-size="8.2" text-anchor="middle" textLength="15.83" lengthAdjust="spacingAndGlyphs" fill="#262626">−50</text>
<line x1="100.50" y1="226.5" x2="100.50" y2="228.9" stroke="#6a6a6a" stroke-width="0.9"/>
<text x="100.50" y="237.30" font-size="8.2" text-anchor="middle" textLength="4.77" lengthAdjust="spacingAndGlyphs" fill="#262626">0</text>
<line x1="143.50" y1="226.5" x2="143.50" y2="228.9" stroke="#6a6a6a" stroke-width="0.9"/>
<text x="143.50" y="237.30" font-size="8.2" text-anchor="middle" textLength="9.54" lengthAdjust="spacingAndGlyphs" fill="#262626">50</text>
<line x1="186.50" y1="226.5" x2="186.50" y2="228.9" stroke="#6a6a6a" stroke-width="0.9"/>
<text x="186.50" y="237.30" font-size="8.2" text-anchor="middle" textLength="14.32" lengthAdjust="spacingAndGlyphs" fill="#262626">100</text>
<line x1="229.50" y1="226.5" x2="229.50" y2="228.9" stroke="#6a6a6a" stroke-width="0.9"/>
<text x="229.50" y="237.30" font-size="8.2" text-anchor="middle" textLength="14.32" lengthAdjust="spacingAndGlyphs" fill="#262626">150</text>
<line x1="44.6" y1="218.50" x2="47.0" y2="218.50" stroke="#6a6a6a" stroke-width="0.9"/>
<text x="42.50" y="222.10" font-size="8.2" text-anchor="end" textLength="15.83" lengthAdjust="spacingAndGlyphs" fill="#262626">−20</text>
<line x1="44.6" y1="187.50" x2="47.0" y2="187.50" stroke="#6a6a6a" stroke-width="0.9"/>
<text x="42.50" y="191.10" font-size="8.2" text-anchor="end" textLength="4.77" lengthAdjust="spacingAndGlyphs" fill="#262626">0</text>
<line x1="44.6" y1="157.50" x2="47.0" y2="157.50" stroke="#6a6a6a" stroke-width="0.9"/>
<text x="42.50" y="161.10" font-size="8.2" text-anchor="end" textLength="9.54" lengthAdjust="spacingAndGlyphs" fill="#262626">20</text>
<line x1="44.6" y1="126.50" x2="47.0" y2="126.50" stroke="#6a6a6a" stroke-width="0.9"/>
<text x="42.50" y="130.10" font-size="8.2" text-anchor="end" textLength="9.54" lengthAdjust="spacingAndGlyphs" fill="#262626">40</text>
<line x1="44.6" y1="95.50" x2="47.0" y2="95.50" stroke="#6a6a6a" stroke-width="0.9"/>
<text x="42.50" y="99.10" font-size="8.2" text-anchor="end" textLength="9.54" lengthAdjust="spacingAndGlyphs" fill="#262626">60</text>
<line x1="44.6" y1="65.50" x2="47.0" y2="65.50" stroke="#6a6a6a" stroke-width="0.9"/>
<text x="42.50" y="69.10" font-size="8.2" text-anchor="end" textLength="9.54" lengthAdjust="spacingAndGlyphs" fill="#262626">80</text>
<line x1="44.6" y1="34.50" x2="47.0" y2="34.50" stroke="#6a6a6a" stroke-width="0.9"/>
<text x="42.50" y="38.10" font-size="8.2" text-anchor="end" textLength="14.32" lengthAdjust="spacingAndGlyphs" fill="#262626">100</text>
<text x="7.67" y="11.90" font-size="9.6" textLength="38.90" lengthAdjust="spacingAndGlyphs" fill="#262626">a) Zurich</text>
<g transform="translate(0.0,0.0)">
<text x="91.00" y="248.60" font-size="9.6" font-style="italic" textLength="4.60" lengthAdjust="spacingAndGlyphs" fill="#262626">σ</text>
<text x="96.66" y="250.10" font-size="6.8" textLength="3.67" lengthAdjust="spacingAndGlyphs" fill="#262626">w</text>
<text x="103.14" y="248.60" font-size="9.6" font-style="italic" textLength="4.24" lengthAdjust="spacingAndGlyphs" fill="#262626">ρ</text>
<text x="107.61" y="250.10" font-size="6.8" font-style="italic" textLength="6.60" lengthAdjust="spacingAndGlyphs" fill="#262626">m</text>
<line x1="102.4" y1="241.8" x2="114.6" y2="241.8" stroke="#8a8a8a" stroke-width="0.8"/>
<text x="115.79" y="248.60" font-size="9.6" textLength="18.57" lengthAdjust="spacingAndGlyphs" fill="#262626">ΔCO</text>
<text x="134.27" y="250.00" font-size="7.6" textLength="4.28" lengthAdjust="spacingAndGlyphs" fill="#262626">2</text>
<text x="141.25" y="248.60" font-size="9.6" textLength="35.87" lengthAdjust="spacingAndGlyphs" fill="#262626">[µmol m</text>
<text x="177.68" y="245.50" font-size="6.8" textLength="8.44" lengthAdjust="spacingAndGlyphs" fill="#262626">−2</text>
<text x="189.67" y="248.60" font-size="9.6" textLength="5.03" lengthAdjust="spacingAndGlyphs" fill="#262626">s</text>
<text x="195.24" y="245.50" font-size="6.8" textLength="7.11" lengthAdjust="spacingAndGlyphs" fill="#262626">−1</text>
<text x="203.36" y="248.60" font-size="9.6" textLength="3.47" lengthAdjust="spacingAndGlyphs" fill="#262626">]</text>
</g>
<g transform="translate(21.6,163.9) rotate(-90)">
<text x="-0.44" y="0.00" font-size="9.6" textLength="5.14" lengthAdjust="spacingAndGlyphs" fill="#262626">F</text>
<text x="4.81" y="1.40" font-size="6.8" textLength="10.05" lengthAdjust="spacingAndGlyphs" fill="#262626">CO</text>
<text x="14.97" y="2.30" font-size="4.8" textLength="1.96" lengthAdjust="spacingAndGlyphs" fill="#262626">2</text>
<text x="21.05" y="0.00" font-size="9.6" textLength="35.87" lengthAdjust="spacingAndGlyphs" fill="#262626">[µmol m</text>
<text x="57.48" y="-3.10" font-size="6.8" textLength="8.44" lengthAdjust="spacingAndGlyphs" fill="#262626">−2</text>
<text x="69.47" y="0.00" font-size="9.6" textLength="5.03" lengthAdjust="spacingAndGlyphs" fill="#262626">s</text>
<text x="75.04" y="-3.10" font-size="6.8" textLength="7.11" lengthAdjust="spacingAndGlyphs" fill="#262626">−1</text>
<text x="83.16" y="0.00" font-size="9.6" textLength="3.47" lengthAdjust="spacingAndGlyphs" fill="#262626">]</text>
</g>
<rect x="291.5" y="15.0" width="203.00" height="211.50" fill="none" stroke="#6a6a6a" stroke-width="1.2"/>
<line x1="302.50" y1="226.5" x2="302.50" y2="228.9" stroke="#6a6a6a" stroke-width="0.9"/>
<text x="302.50" y="237.30" font-size="8.2" text-anchor="middle" textLength="15.83" lengthAdjust="spacingAndGlyphs" fill="#262626">−50</text>
<line x1="345.50" y1="226.5" x2="345.50" y2="228.9" stroke="#6a6a6a" stroke-width="0.9"/>
<text x="345.50" y="237.30" font-size="8.2" text-anchor="middle" textLength="4.77" lengthAdjust="spacingAndGlyphs" fill="#262626">0</text>
<line x1="387.50" y1="226.5" x2="387.50" y2="228.9" stroke="#6a6a6a" stroke-width="0.9"/>
<text x="387.50" y="237.30" font-size="8.2" text-anchor="middle" textLength="9.54" lengthAdjust="spacingAndGlyphs" fill="#262626">50</text>
<line x1="430.50" y1="226.5" x2="430.50" y2="228.9" stroke="#6a6a6a" stroke-width="0.9"/>
<text x="430.50" y="237.30" font-size="8.2" text-anchor="middle" textLength="14.32" lengthAdjust="spacingAndGlyphs" fill="#262626">100</text>
<line x1="473.50" y1="226.5" x2="473.50" y2="228.9" stroke="#6a6a6a" stroke-width="0.9"/>
<text x="473.50" y="237.30" font-size="8.2" text-anchor="middle" textLength="14.32" lengthAdjust="spacingAndGlyphs" fill="#262626">150</text>
<line x1="289.1" y1="218.50" x2="291.5" y2="218.50" stroke="#6a6a6a" stroke-width="0.9"/>
<text x="287.10" y="222.10" font-size="8.2" text-anchor="end" textLength="15.83" lengthAdjust="spacingAndGlyphs" fill="#262626">−20</text>
<line x1="289.1" y1="187.50" x2="291.5" y2="187.50" stroke="#6a6a6a" stroke-width="0.9"/>
<text x="287.10" y="191.10" font-size="8.2" text-anchor="end" textLength="4.77" lengthAdjust="spacingAndGlyphs" fill="#262626">0</text>
<line x1="289.1" y1="157.50" x2="291.5" y2="157.50" stroke="#6a6a6a" stroke-width="0.9"/>
<text x="287.10" y="161.10" font-size="8.2" text-anchor="end" textLength="9.54" lengthAdjust="spacingAndGlyphs" fill="#262626">20</text>
<line x1="289.1" y1="126.50" x2="291.5" y2="126.50" stroke="#6a6a6a" stroke-width="0.9"/>
<text x="287.10" y="130.10" font-size="8.2" text-anchor="end" textLength="9.54" lengthAdjust="spacingAndGlyphs" fill="#262626">40</text>
<line x1="289.1" y1="95.50" x2="291.5" y2="95.50" stroke="#6a6a6a" stroke-width="0.9"/>
<text x="287.10" y="99.10" font-size="8.2" text-anchor="end" textLength="9.54" lengthAdjust="spacingAndGlyphs" fill="#262626">60</text>
<line x1="289.1" y1="65.50" x2="291.5" y2="65.50" stroke="#6a6a6a" stroke-width="0.9"/>
<text x="287.10" y="69.10" font-size="8.2" text-anchor="end" textLength="9.54" lengthAdjust="spacingAndGlyphs" fill="#262626">80</text>
<line x1="289.1" y1="34.50" x2="291.5" y2="34.50" stroke="#6a6a6a" stroke-width="0.9"/>
<text x="287.10" y="38.10" font-size="8.2" text-anchor="end" textLength="14.32" lengthAdjust="spacingAndGlyphs" fill="#262626">100</text>
<text x="259.05" y="11.90" font-size="9.6" textLength="31.83" lengthAdjust="spacingAndGlyphs" fill="#262626">b) Paris</text>
<g transform="translate(244.6,0.0)">
<text x="91.00" y="248.60" font-size="9.6" font-style="italic" textLength="4.60" lengthAdjust="spacingAndGlyphs" fill="#262626">σ</text>
<text x="96.66" y="250.10" font-size="6.8" textLength="3.67" lengthAdjust="spacingAndGlyphs" fill="#262626">w</text>
<text x="103.14" y="248.60" font-size="9.6" font-style="italic" textLength="4.24" lengthAdjust="spacingAndGlyphs" fill="#262626">ρ</text>
<text x="107.61" y="250.10" font-size="6.8" font-style="italic" textLength="6.60" lengthAdjust="spacingAndGlyphs" fill="#262626">m</text>
<line x1="102.4" y1="241.8" x2="114.6" y2="241.8" stroke="#8a8a8a" stroke-width="0.8"/>
<text x="115.79" y="248.60" font-size="9.6" textLength="18.57" lengthAdjust="spacingAndGlyphs" fill="#262626">ΔCO</text>
<text x="134.27" y="250.00" font-size="7.6" textLength="4.28" lengthAdjust="spacingAndGlyphs" fill="#262626">2</text>
<text x="141.25" y="248.60" font-size="9.6" textLength="35.87" lengthAdjust="spacingAndGlyphs" fill="#262626">[µmol m</text>
<text x="177.68" y="245.50" font-size="6.8" textLength="8.44" lengthAdjust="spacingAndGlyphs" fill="#262626">−2</text>
<text x="189.67" y="248.60" font-size="9.6" textLength="5.03" lengthAdjust="spacingAndGlyphs" fill="#262626">s</text>
<text x="195.24" y="245.50" font-size="6.8" textLength="7.11" lengthAdjust="spacingAndGlyphs" fill="#262626">−1</text>
<text x="203.36" y="248.60" font-size="9.6" textLength="3.47" lengthAdjust="spacingAndGlyphs" fill="#262626">]</text>
</g>
<g transform="translate(266.2,163.9) rotate(-90)">
<text x="-0.44" y="0.00" font-size="9.6" textLength="5.14" lengthAdjust="spacingAndGlyphs" fill="#262626">F</text>
<text x="4.81" y="1.40" font-size="6.8" textLength="10.05" lengthAdjust="spacingAndGlyphs" fill="#262626">CO</text>
<text x="14.97" y="2.30" font-size="4.8" textLength="1.96" lengthAdjust="spacingAndGlyphs" fill="#262626">2</text>
<text x="21.05" y="0.00" font-size="9.6" textLength="35.87" lengthAdjust="spacingAndGlyphs" fill="#262626">[µmol m</text>
<text x="57.48" y="-3.10" font-size="6.8" textLength="8.44" lengthAdjust="spacingAndGlyphs" fill="#262626">−2</text>
<text x="69.47" y="0.00" font-size="9.6" textLength="5.03" lengthAdjust="spacingAndGlyphs" fill="#262626">s</text>
<text x="75.04" y="-3.10" font-size="6.8" textLength="7.11" lengthAdjust="spacingAndGlyphs" fill="#262626">−1</text>
<text x="83.16" y="0.00" font-size="9.6" textLength="3.47" lengthAdjust="spacingAndGlyphs" fill="#262626">]</text>
</g>
<rect x="47.0" y="268.5" width="203.50" height="211.00" fill="none" stroke="#6a6a6a" stroke-width="1.2"/>
<line x1="57.50" y1="479.5" x2="57.50" y2="481.9" stroke="#6a6a6a" stroke-width="0.9"/>
<text x="57.50" y="490.30" font-size="8.2" text-anchor="middle" textLength="15.83" lengthAdjust="spacingAndGlyphs" fill="#262626">−50</text>
<line x1="100.50" y1="479.5" x2="100.50" y2="481.9" stroke="#6a6a6a" stroke-width="0.9"/>
<text x="100.50" y="490.30" font-size="8.2" text-anchor="middle" textLength="4.77" lengthAdjust="spacingAndGlyphs" fill="#262626">0</text>
<line x1="143.50" y1="479.5" x2="143.50" y2="481.9" stroke="#6a6a6a" stroke-width="0.9"/>
<text x="143.50" y="490.30" font-size="8.2" text-anchor="middle" textLength="9.54" lengthAdjust="spacingAndGlyphs" fill="#262626">50</text>
<line x1="186.50" y1="479.5" x2="186.50" y2="481.9" stroke="#6a6a6a" stroke-width="0.9"/>
<text x="186.50" y="490.30" font-size="8.2" text-anchor="middle" textLength="14.32" lengthAdjust="spacingAndGlyphs" fill="#262626">100</text>
<line x1="229.50" y1="479.5" x2="229.50" y2="481.9" stroke="#6a6a6a" stroke-width="0.9"/>
<text x="229.50" y="490.30" font-size="8.2" text-anchor="middle" textLength="14.32" lengthAdjust="spacingAndGlyphs" fill="#262626">150</text>
<line x1="44.6" y1="471.50" x2="47.0" y2="471.50" stroke="#6a6a6a" stroke-width="0.9"/>
<text x="42.50" y="475.10" font-size="8.2" text-anchor="end" textLength="15.83" lengthAdjust="spacingAndGlyphs" fill="#262626">−20</text>
<line x1="44.6" y1="441.50" x2="47.0" y2="441.50" stroke="#6a6a6a" stroke-width="0.9"/>
<text x="42.50" y="445.10" font-size="8.2" text-anchor="end" textLength="4.77" lengthAdjust="spacingAndGlyphs" fill="#262626">0</text>
<line x1="44.6" y1="410.50" x2="47.0" y2="410.50" stroke="#6a6a6a" stroke-width="0.9"/>
<text x="42.50" y="414.10" font-size="8.2" text-anchor="end" textLength="9.54" lengthAdjust="spacingAndGlyphs" fill="#262626">20</text>
<line x1="44.6" y1="379.50" x2="47.0" y2="379.50" stroke="#6a6a6a" stroke-width="0.9"/>
<text x="42.50" y="383.10" font-size="8.2" text-anchor="end" textLength="9.54" lengthAdjust="spacingAndGlyphs" fill="#262626">40</text>
<line x1="44.6" y1="349.50" x2="47.0" y2="349.50" stroke="#6a6a6a" stroke-width="0.9"/>
<text x="42.50" y="353.10" font-size="8.2" text-anchor="end" textLength="9.54" lengthAdjust="spacingAndGlyphs" fill="#262626">60</text>
<line x1="44.6" y1="318.50" x2="47.0" y2="318.50" stroke="#6a6a6a" stroke-width="0.9"/>
<text x="42.50" y="322.10" font-size="8.2" text-anchor="end" textLength="9.54" lengthAdjust="spacingAndGlyphs" fill="#262626">80</text>
<line x1="44.6" y1="288.50" x2="47.0" y2="288.50" stroke="#6a6a6a" stroke-width="0.9"/>
<text x="42.50" y="292.10" font-size="8.2" text-anchor="end" textLength="14.32" lengthAdjust="spacingAndGlyphs" fill="#262626">100</text>
<text x="4.84" y="265.50" font-size="9.6" textLength="41.73" lengthAdjust="spacingAndGlyphs" fill="#262626">c) Munich</text>
<g transform="translate(0.0,253.6)">
<text x="91.00" y="248.60" font-size="9.6" font-style="italic" textLength="4.60" lengthAdjust="spacingAndGlyphs" fill="#262626">σ</text>
<text x="96.66" y="250.10" font-size="6.8" textLength="3.67" lengthAdjust="spacingAndGlyphs" fill="#262626">w</text>
<text x="103.14" y="248.60" font-size="9.6" font-style="italic" textLength="4.24" lengthAdjust="spacingAndGlyphs" fill="#262626">ρ</text>
<text x="107.61" y="250.10" font-size="6.8" font-style="italic" textLength="6.60" lengthAdjust="spacingAndGlyphs" fill="#262626">m</text>
<line x1="102.4" y1="241.8" x2="114.6" y2="241.8" stroke="#8a8a8a" stroke-width="0.8"/>
<text x="115.79" y="248.60" font-size="9.6" textLength="18.57" lengthAdjust="spacingAndGlyphs" fill="#262626">ΔCO</text>
<text x="134.27" y="250.00" font-size="7.6" textLength="4.28" lengthAdjust="spacingAndGlyphs" fill="#262626">2</text>
<text x="141.25" y="248.60" font-size="9.6" textLength="35.87" lengthAdjust="spacingAndGlyphs" fill="#262626">[µmol m</text>
<text x="177.68" y="245.50" font-size="6.8" textLength="8.44" lengthAdjust="spacingAndGlyphs" fill="#262626">−2</text>
<text x="189.67" y="248.60" font-size="9.6" textLength="5.03" lengthAdjust="spacingAndGlyphs" fill="#262626">s</text>
<text x="195.24" y="245.50" font-size="6.8" textLength="7.11" lengthAdjust="spacingAndGlyphs" fill="#262626">−1</text>
<text x="203.36" y="248.60" font-size="9.6" textLength="3.47" lengthAdjust="spacingAndGlyphs" fill="#262626">]</text>
</g>
<g transform="translate(21.6,417.5) rotate(-90)">
<text x="-0.44" y="0.00" font-size="9.6" textLength="5.14" lengthAdjust="spacingAndGlyphs" fill="#262626">F</text>
<text x="4.81" y="1.40" font-size="6.8" textLength="10.05" lengthAdjust="spacingAndGlyphs" fill="#262626">CO</text>
<text x="14.97" y="2.30" font-size="4.8" textLength="1.96" lengthAdjust="spacingAndGlyphs" fill="#262626">2</text>
<text x="21.05" y="0.00" font-size="9.6" textLength="35.87" lengthAdjust="spacingAndGlyphs" fill="#262626">[µmol m</text>
<text x="57.48" y="-3.10" font-size="6.8" textLength="8.44" lengthAdjust="spacingAndGlyphs" fill="#262626">−2</text>
<text x="69.47" y="0.00" font-size="9.6" textLength="5.03" lengthAdjust="spacingAndGlyphs" fill="#262626">s</text>
<text x="75.04" y="-3.10" font-size="6.8" textLength="7.11" lengthAdjust="spacingAndGlyphs" fill="#262626">−1</text>
<text x="83.16" y="0.00" font-size="9.6" textLength="3.47" lengthAdjust="spacingAndGlyphs" fill="#262626">]</text>
</g>
<rect x="50.40" y="17.70" width="65.80" height="83.10" rx="2" fill="#ffffff" fill-opacity="0.8" stroke="#d9d9d9" stroke-width="0.8"/>
<rect x="53.30" y="22.10" width="15.60" height="5.8" fill="#7a1f87"/>
<text x="74.50" y="27.80" font-size="8.2" font-style="italic" textLength="4.59" lengthAdjust="spacingAndGlyphs" fill="#262626">δ</text>
<text x="82.80" y="27.80" font-size="8.2" textLength="20.60" lengthAdjust="spacingAndGlyphs" fill="#262626">= 0.3</text>
<rect x="53.30" y="33.30" width="15.60" height="5.8" fill="#3e4a9e"/>
<text x="74.50" y="39.00" font-size="8.2" font-style="italic" textLength="4.59" lengthAdjust="spacingAndGlyphs" fill="#262626">δ</text>
<text x="82.80" y="39.00" font-size="8.2" textLength="20.60" lengthAdjust="spacingAndGlyphs" fill="#262626">= 0.4</text>
<rect x="53.30" y="44.70" width="15.60" height="5.8" fill="#68b48c"/>
<text x="74.50" y="50.40" font-size="8.2" font-style="italic" textLength="4.59" lengthAdjust="spacingAndGlyphs" fill="#262626">δ</text>
<text x="82.80" y="50.40" font-size="8.2" textLength="20.60" lengthAdjust="spacingAndGlyphs" fill="#262626">= 0.7</text>
<rect x="53.30" y="56.00" width="15.60" height="5.8" fill="#a3c35a"/>
<text x="74.50" y="61.70" font-size="8.2" font-style="italic" textLength="4.59" lengthAdjust="spacingAndGlyphs" fill="#262626">δ</text>
<text x="82.80" y="61.70" font-size="8.2" textLength="20.60" lengthAdjust="spacingAndGlyphs" fill="#262626">= 0.8</text>
<line x1="53.30" y1="70.50" x2="68.90" y2="70.50" stroke="#333" stroke-width="0.9"/>
<text x="74.50" y="73.20" font-size="8.2" font-style="italic" textLength="4.79" lengthAdjust="spacingAndGlyphs" fill="#262626">β</text>
<text x="82.80" y="73.20" font-size="8.2" textLength="13.44" lengthAdjust="spacingAndGlyphs" fill="#262626">= 0</text>
<line x1="53.50" y1="82.50" x2="68.90" y2="82.50" stroke="#68b48c" stroke-width="0.85" stroke-dasharray="2.0 1.15"/>
<text x="74.50" y="85.30" font-size="8.2" font-style="italic" textLength="4.79" lengthAdjust="spacingAndGlyphs" fill="#262626">β</text>
<text class="s" x="79.60" y="86.70" font-size="6.9" textLength="6.03" lengthAdjust="spacingAndGlyphs" fill="#262626">fit</text>
<text x="88.50" y="85.30" font-size="8.2" textLength="25.37" lengthAdjust="spacingAndGlyphs" fill="#262626">= 0.39</text>
<line x1="53.50" y1="94.50" x2="68.90" y2="94.50" stroke="#333" stroke-width="0.9" stroke-dasharray="1.2 0.9"/>
<text x="74.50" y="97.20" font-size="8.2" font-style="italic" textLength="4.79" lengthAdjust="spacingAndGlyphs" fill="#262626">β</text>
<text x="82.80" y="97.20" font-size="8.2" textLength="13.44" lengthAdjust="spacingAndGlyphs" fill="#262626">= 1</text>
<rect x="295.05" y="17.70" width="66.15" height="84.70" rx="2" fill="#ffffff" fill-opacity="0.8" stroke="#d9d9d9" stroke-width="0.8"/>
<rect x="297.90" y="22.20" width="15.60" height="5.8" fill="#4a86c4"/>
<text x="319.10" y="27.90" font-size="8.2" font-style="italic" textLength="5.64" lengthAdjust="spacingAndGlyphs" fill="#262626">H</text>
<text x="327.60" y="27.90" font-size="8.2" textLength="20.60" lengthAdjust="spacingAndGlyphs" fill="#262626">= 0.6</text>
<rect x="297.90" y="33.40" width="15.60" height="5.8" fill="#68b48c"/>
<text x="319.10" y="39.10" font-size="8.2" font-style="italic" textLength="4.59" lengthAdjust="spacingAndGlyphs" fill="#262626">δ</text>
<text x="327.40" y="39.10" font-size="8.2" textLength="20.60" lengthAdjust="spacingAndGlyphs" fill="#262626">= 0.7</text>
<rect x="297.90" y="44.70" width="15.60" height="5.8" fill="#d8ae35"/>
<text x="319.10" y="50.40" font-size="8.2" font-style="italic" textLength="4.59" lengthAdjust="spacingAndGlyphs" fill="#262626">δ</text>
<text x="327.40" y="50.40" font-size="8.2" textLength="20.60" lengthAdjust="spacingAndGlyphs" fill="#262626">= 0.9</text>
<line x1="297.90" y1="59.50" x2="313.50" y2="59.50" stroke="#333" stroke-width="0.9"/>
<text x="319.10" y="62.10" font-size="8.2" font-style="italic" textLength="4.79" lengthAdjust="spacingAndGlyphs" fill="#262626">β</text>
<text x="327.40" y="62.10" font-size="8.2" textLength="13.44" lengthAdjust="spacingAndGlyphs" fill="#262626">= 0</text>
<line x1="298.10" y1="71.10" x2="313.50" y2="71.10" stroke="#78c8a8" stroke-width="0.85" stroke-dasharray="2.0 1.15"/>
<text x="319.10" y="73.90" font-size="8.2" font-style="italic" textLength="4.79" lengthAdjust="spacingAndGlyphs" fill="#262626">β</text>
<text class="s" x="324.20" y="75.30" font-size="6.9" textLength="6.03" lengthAdjust="spacingAndGlyphs" fill="#262626">fit</text>
<text x="333.10" y="73.90" font-size="8.2" textLength="25.37" lengthAdjust="spacingAndGlyphs" fill="#262626">= 0.38</text>
<line x1="298.10" y1="82.80" x2="313.50" y2="82.80" stroke="#e0b848" stroke-width="0.85" stroke-dasharray="2.0 1.15"/>
<text x="319.10" y="85.60" font-size="8.2" font-style="italic" textLength="4.79" lengthAdjust="spacingAndGlyphs" fill="#262626">β</text>
<text class="s" x="324.20" y="87.00" font-size="6.9" textLength="6.03" lengthAdjust="spacingAndGlyphs" fill="#262626">fit</text>
<text x="333.10" y="85.60" font-size="8.2" textLength="25.37" lengthAdjust="spacingAndGlyphs" fill="#262626">= 0.40</text>
<line x1="298.10" y1="93.50" x2="313.50" y2="93.50" stroke="#333" stroke-width="0.9" stroke-dasharray="1.2 0.9"/>
<text x="319.10" y="96.50" font-size="8.2" font-style="italic" textLength="4.79" lengthAdjust="spacingAndGlyphs" fill="#262626">β</text>
<text x="327.40" y="96.50" font-size="8.2" textLength="13.44" lengthAdjust="spacingAndGlyphs" fill="#262626">= 1</text>
<rect x="50.40" y="272.50" width="65.80" height="71.60" rx="2" fill="#ffffff" fill-opacity="0.8" stroke="#d9d9d9" stroke-width="0.8"/>
<rect x="53.30" y="275.60" width="15.60" height="5.8" fill="#8cbc52"/>
<text x="74.50" y="281.30" font-size="8.2" font-style="italic" textLength="5.64" lengthAdjust="spacingAndGlyphs" fill="#262626">H</text>
<text x="83.00" y="281.30" font-size="8.2" textLength="20.60" lengthAdjust="spacingAndGlyphs" fill="#262626">= 0.8</text>
<rect x="53.30" y="286.70" width="15.60" height="5.8" fill="#e67832"/>
<text x="74.50" y="292.40" font-size="8.2" font-style="italic" textLength="4.59" lengthAdjust="spacingAndGlyphs" fill="#262626">δ</text>
<text x="82.80" y="292.40" font-size="8.2" textLength="20.60" lengthAdjust="spacingAndGlyphs" fill="#262626">= 1.1</text>
<line x1="53.30" y1="301.50" x2="68.90" y2="301.50" stroke="#333" stroke-width="0.9"/>
<text x="74.50" y="303.90" font-size="8.2" font-style="italic" textLength="4.79" lengthAdjust="spacingAndGlyphs" fill="#262626">β</text>
<text x="82.80" y="303.90" font-size="8.2" textLength="13.44" lengthAdjust="spacingAndGlyphs" fill="#262626">= 0</text>
<line x1="53.50" y1="313.40" x2="68.90" y2="313.40" stroke="#8cbc52" stroke-width="0.85" stroke-dasharray="2.0 1.15"/>
<text x="74.50" y="316.20" font-size="8.2" font-style="italic" textLength="4.79" lengthAdjust="spacingAndGlyphs" fill="#262626">β</text>
<text class="s" x="79.60" y="317.60" font-size="6.9" textLength="6.03" lengthAdjust="spacingAndGlyphs" fill="#262626">fit</text>
<text x="88.50" y="316.20" font-size="8.2" textLength="25.37" lengthAdjust="spacingAndGlyphs" fill="#262626">= 0.24</text>
<line x1="53.50" y1="324.70" x2="68.90" y2="324.70" stroke="#e67832" stroke-width="0.85" stroke-dasharray="2.0 1.15"/>
<text x="74.50" y="327.50" font-size="8.2" font-style="italic" textLength="4.79" lengthAdjust="spacingAndGlyphs" fill="#262626">β</text>
<text class="s" x="79.60" y="328.90" font-size="6.9" textLength="6.03" lengthAdjust="spacingAndGlyphs" fill="#262626">fit</text>
<text x="88.50" y="327.50" font-size="8.2" textLength="25.37" lengthAdjust="spacingAndGlyphs" fill="#262626">= 0.33</text>
<line x1="53.50" y1="336.50" x2="68.90" y2="336.50" stroke="#888" stroke-width="0.9" stroke-dasharray="1.2 0.9"/>
<text x="74.50" y="339.30" font-size="8.2" font-style="italic" textLength="4.79" lengthAdjust="spacingAndGlyphs" fill="#262626">β</text>
<text x="82.80" y="339.30" font-size="8.2" textLength="13.44" lengthAdjust="spacingAndGlyphs" fill="#262626">= 1</text>
<rect x="295.6" y="272.3" width="121.1" height="58.8" rx="2" fill="#fff" stroke="#d9d9d9" stroke-width="0.8"/>
<circle cx="305.5" cy="278.7" r="2.2" fill="#777777"/>
<polygon points="305.50,286.80 306.21,288.83 308.35,288.87 306.64,290.17 307.26,292.23 305.50,291.00 303.74,292.23 304.36,290.17 302.65,288.87 304.79,288.83" fill="#777777"/>
<polygon points="297.45,299.44 302.35,299.44 299.90,304.09" fill="#6a6a6a"/>
<polygon points="309.20,303.74 313.80,303.74 311.50,299.37" fill="#8a8a8a"/>
<line x1="306.6" y1="299.2" x2="304.6" y2="304.2" stroke="#222" stroke-width="1.2"/>
<circle cx="298.6" cy="312.6" r="1.35" fill="#fff" stroke="#8a8a8a" stroke-width="0.6"/>
<polygon points="302.40,310.00 302.96,311.53 304.59,311.59 303.30,312.59 303.75,314.16 302.40,313.25 301.05,314.16 301.50,312.59 300.21,311.59 301.84,311.53" fill="#fff" stroke="#8a8a8a" stroke-width="0.55"/>
<polygon points="306.40,314.20 310.40,314.20 308.40,310.40" fill="#fff" stroke="#8a8a8a" stroke-width="0.55"/>
<polygon points="311.00,310.80 315.00,310.80 313.00,314.60" fill="#fff" stroke="#8a8a8a" stroke-width="0.55"/>
<circle cx="298.8" cy="323.9" r="1.8" fill="#b4b4b4"/>
<polygon points="302.60,321.30 303.19,322.89 304.88,322.96 303.55,324.01 304.01,325.64 302.60,324.70 301.19,325.64 301.65,324.01 300.32,322.96 302.01,322.89" fill="#b4b4b4"/>
<polygon points="306.50,325.68 310.70,325.68 308.60,321.69" fill="#b4b4b4"/>
<polygon points="310.90,322.12 315.10,322.12 313.00,326.11" fill="#b4b4b4"/>
<text x="319.81" y="281.80" font-size="8.2" textLength="40.88" lengthAdjust="spacingAndGlyphs" fill="#262626">Well-mixed</text>
<text x="318.94" y="293.40" font-size="8.2" textLength="94.39" lengthAdjust="spacingAndGlyphs" fill="#262626">Low-turbulence / storage</text>
<text x="319.46" y="304.80" font-size="8.2" font-style="italic" textLength="4.89" lengthAdjust="spacingAndGlyphs" fill="#262626">β</text>
<text x="326.01" y="304.80" font-size="8.2" textLength="5.18" lengthAdjust="spacingAndGlyphs" fill="#262626">&lt;</text>
<text x="332.68" y="304.80" font-size="8.2" textLength="12.91" lengthAdjust="spacingAndGlyphs" fill="#262626">0.1</text>
<text x="347.65" y="304.80" font-size="8.2" textLength="2.30" lengthAdjust="spacingAndGlyphs" fill="#262626">/</text>
<text x="352.46" y="304.80" font-size="8.2" font-style="italic" textLength="4.89" lengthAdjust="spacingAndGlyphs" fill="#262626">β</text>
<text x="359.61" y="304.80" font-size="8.2" textLength="5.18" lengthAdjust="spacingAndGlyphs" fill="#262626">&gt;</text>
<text x="366.01" y="304.80" font-size="8.2" textLength="4.76" lengthAdjust="spacingAndGlyphs" fill="#262626">1</text>
<text x="319.46" y="316.20" font-size="8.2" textLength="26.52" lengthAdjust="spacingAndGlyphs" fill="#262626">QC &lt; 2</text>
<text x="319.48" y="327.00" font-size="8.2" textLength="50.56" lengthAdjust="spacingAndGlyphs" fill="#262626">SNR &lt; 100 %</text>
</svg></body></html>
